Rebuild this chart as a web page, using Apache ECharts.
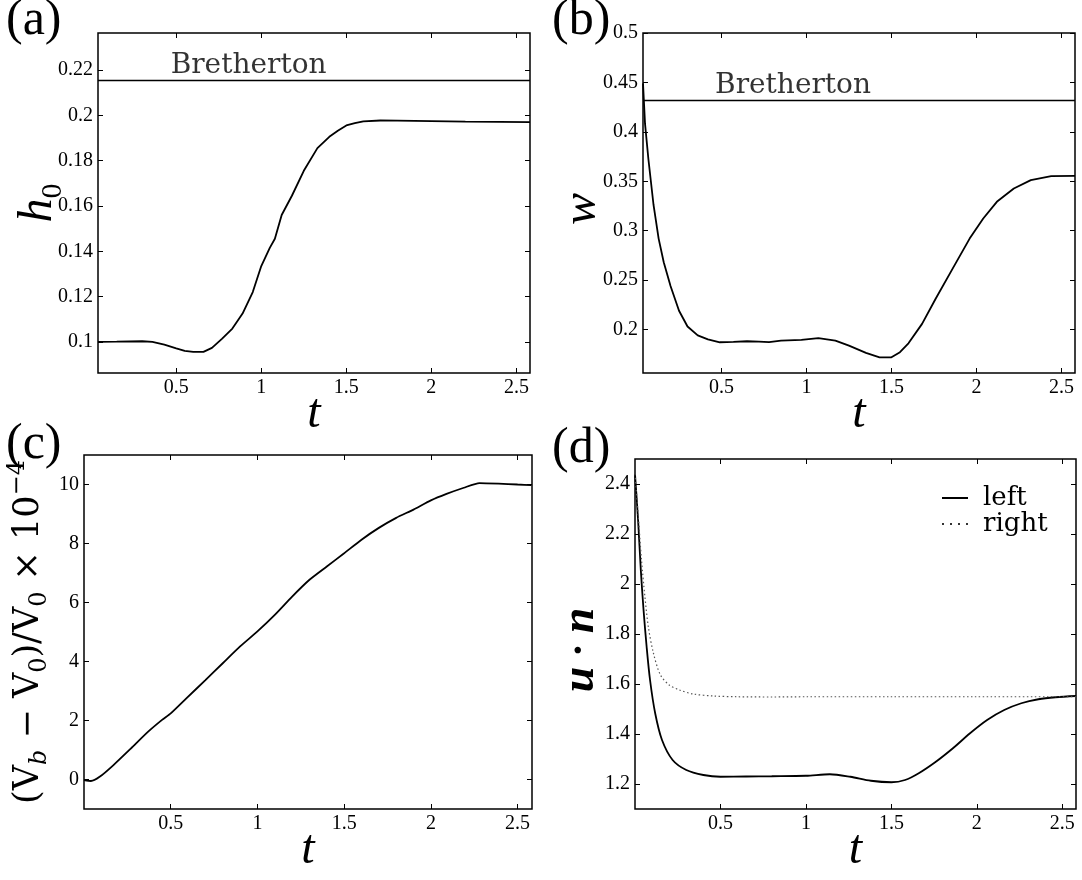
<!DOCTYPE html>
<html><head><meta charset="utf-8">
<script src="https://cdn.jsdelivr.net/npm/echarts@6/dist/echarts.min.js"></script>
<style>html,body{margin:0;padding:0;background:#fff}#c{width:1082px;height:880px}</style>
</head><body><div id="c"></div>
<script>
// ---- data ----
const aT = [0.04,0.15,0.3,0.36,0.43,0.5,0.55,0.6,0.66,0.71,0.77,0.83,0.89,0.95,1.0,1.05,1.08,1.12,1.18,1.25,1.33,1.4,1.45,1.5,1.55,1.6,1.7,1.8,2.0,2.2,2.4,2.58];
const aH = [0.1,0.1001,0.1003,0.1,0.0988,0.0972,0.0961,0.0956,0.0956,0.0974,0.1015,0.1059,0.1125,0.122,0.1335,0.1415,0.1455,0.156,0.1645,0.1755,0.1855,0.1905,0.1932,0.1955,0.1965,0.1973,0.1977,0.1976,0.1974,0.1972,0.1971,0.197];
const aBretherton = 0.2153;
const bT = [0.038,0.05,0.07,0.1,0.13,0.16,0.2,0.25,0.3,0.36,0.42,0.49,0.57,0.65,0.72,0.78,0.85,0.97,1.07,1.17,1.25,1.35,1.43,1.5,1.55,1.6,1.68,1.76,1.86,1.96,2.04,2.12,2.22,2.32,2.44,2.58];
const bW = [0.449,0.408,0.372,0.326,0.292,0.268,0.244,0.219,0.203,0.194,0.19,0.1871,0.1875,0.1881,0.1878,0.1872,0.1888,0.1895,0.1912,0.1888,0.1837,0.1763,0.1719,0.1719,0.177,0.186,0.2057,0.2311,0.2616,0.292,0.3123,0.3292,0.3427,0.3512,0.3552,0.3555];
const bBretherton = 0.4316;
const cT = [0,0.04,0.09,0.17,0.27,0.37,0.45,0.5,0.59,0.7,0.8,0.9,1.0,1.1,1.2,1.3,1.4,1.5,1.6,1.7,1.8,1.9,2.0,2.09,2.19,2.28,2.39,2.5,2.58];
const cV = [-0.02,-0.05,0.09,0.49,1.05,1.62,2.02,2.24,2.75,3.37,3.94,4.51,5.02,5.58,6.2,6.77,7.22,7.67,8.13,8.53,8.87,9.15,9.46,9.68,9.89,10.05,10.03,10.0,9.98];
const dT = [0,0.018,0.034,0.05,0.068,0.088,0.118,0.158,0.22,0.3,0.4,0.5,0.65,0.8,1.0,1.14,1.26,1.38,1.5,1.58,1.66,1.76,1.86,1.96,2.06,2.16,2.26,2.36,2.46,2.58];
const dLeft = [2.44,2.256,2.056,1.896,1.749,1.616,1.483,1.376,1.296,1.256,1.236,1.229,1.230,1.231,1.233,1.239,1.229,1.213,1.207,1.216,1.243,1.289,1.343,1.403,1.456,1.496,1.523,1.539,1.547,1.552];
const dTr = [0,0.018,0.038,0.058,0.078,0.108,0.149,0.2,0.26,0.34,0.46,0.6,0.8,1.0,1.5,2.0,2.58];
const dRight = [2.44,2.283,2.096,1.949,1.829,1.723,1.636,1.596,1.576,1.56,1.552,1.549,1.548,1.549,1.549,1.549,1.549];
const xTicks = [0.5,1,1.5,2,2.5];
const aYTicks = [0.1,0.12,0.14,0.16,0.18,0.2,0.22];
const bYTicks = [0.2,0.25,0.3,0.35,0.4,0.45,0.5];
const cYTicks = [0,2,4,6,8,10];
const dYTicks = [1.2,1.4,1.6,1.8,2,2.2,2.4];
const legendNames = ['left','right'];

// ---- layout ----
const grids = [
  {left:98, top:33, width:432, height:340},
  {left:643, top:33, width:432, height:340},
  {left:84, top:455, width:448, height:354},
  {left:635, top:459, width:441, height:350}
];
const xr = [[0.04,2.58],[0.038,2.58],[0,2.583],[0,2.58]];
const yr = [[0.0863,0.2363],[0.156,0.5],[-1,11],[1.1,2.5]];
const yt = [aYTicks,bYTicks,cYTicks,dYTicks];

const tickFont = {fontFamily:'Liberation Serif', fontSize:20, color:'#000'};
const fmt = v => String(+(+v).toFixed(4));
const tick = vals => ({show:true, inside:true, length:5, lineStyle:{color:'#000', width:1}, customValues: vals});
const noLine = {show:false, onZero:false};

const xAxis = [], yAxis = [];
grids.forEach((g,i) => {
  xAxis.push({type:'value', gridIndex:i, min:xr[i][0], max:xr[i][1], position:'bottom',
    axisLine:noLine, splitLine:{show:false}, axisTick:tick(xTicks),
    axisLabel:Object.assign({show:true, customValues:xTicks, formatter:fmt, margin:5}, tickFont),
    name:'t', nameLocation:'middle', nameGap:17, nameMoveOverlap:false,
    nameTextStyle:{fontFamily:'Liberation Serif', fontStyle:'italic', fontSize:48, color:'#000', lineHeight:48, verticalAlign:'top'}});
  xAxis.push({type:'value', gridIndex:i, min:xr[i][0], max:xr[i][1], position:'top',
    axisLine:noLine, splitLine:{show:false}, axisTick:tick(xTicks), axisLabel:{show:false}});
});
const yNames = [
  {name:'{i|h}{s|0}', gap:30, pad:[0,0,0,0], rich:{
    i:{fontFamily:'Liberation Serif', fontStyle:'italic', fontSize:48, lineHeight:60, color:'#000'},
    s:{fontFamily:'Liberation Serif', fontSize:30, lineHeight:30, verticalAlign:'bottom', color:'#000'}}},
  {name:'{i|w}', gap:37, pad:[0,12,0,0], rich:{
    i:{fontFamily:'Liberation Serif', fontStyle:'italic', fontSize:48, lineHeight:48, color:'#000'}}},
  {name:'{r|(V}{si|b}{r| − V}{s|0}{r|)/V}{s|0}{r| × 10}{sup|−4}', gap:32, pad:[0,0,0,0], rich:{
    r:{fontFamily:'DejaVu Serif', fontSize:35, lineHeight:46, color:'#000'},
    si:{fontFamily:'DejaVu Serif', fontStyle:'italic', fontSize:24, lineHeight:24, verticalAlign:'bottom', color:'#000'},
    s:{fontFamily:'DejaVu Serif', fontSize:24, lineHeight:24, verticalAlign:'bottom', color:'#000'},
    sup:{fontFamily:'DejaVu Serif', fontSize:24, lineHeight:24, verticalAlign:'top', color:'#000'}}},
  {name:'{b|u}{d| · }{b|n}', gap:31, pad:[0,32,0,0], rich:{
    b:{fontFamily:'Liberation Serif', fontStyle:'italic', fontWeight:'bold', fontSize:46, lineHeight:46, color:'#000'},
    d:{fontFamily:'Liberation Serif', fontWeight:'bold', fontSize:40, lineHeight:46, color:'#000'}}}
];
grids.forEach((g,i) => {
  yAxis.push({type:'value', gridIndex:i, min:yr[i][0], max:yr[i][1], position:'left',
    axisLine:noLine, splitLine:{show:false}, axisTick:tick(yt[i]),
    axisLabel:Object.assign({show:true, customValues:yt[i], formatter:fmt, margin:5}, tickFont),
    name:yNames[i].name, nameLocation:'middle', nameRotate:90, nameGap:yNames[i].gap, nameMoveOverlap:false,
    nameTextStyle:{rich:yNames[i].rich, padding:yNames[i].pad}});
  yAxis.push({type:'value', gridIndex:i, min:yr[i][0], max:yr[i][1], position:'right',
    axisLine:noLine, splitLine:{show:false}, axisTick:tick(yt[i]), axisLabel:{show:false}});
});

const zip = (xs, ys) => xs.map((x,k) => [x, ys[k]]);
const black = {color:'#000', width:1.8};
const labelText = (xi, yi, xv, yv) => ({type:'scatter', xAxisIndex:xi, yAxisIndex:yi, data:[[xv,yv]], symbolSize:1,
  itemStyle:{color:'rgba(0,0,0,0)'}, silent:true,
  label:{show:true, formatter:'Bretherton', position:[0,0], align:'left', verticalAlign:'bottom',
    fontFamily:'DejaVu Serif', fontSize:28, color:'#000'}});

const series = [
  {type:'line', xAxisIndex:0, yAxisIndex:0, data:zip(aT,aH), symbol:'none', lineStyle:black, color:'#000'},
  {type:'line', xAxisIndex:0, yAxisIndex:0, data:[[xr[0][0],aBretherton],[xr[0][1],aBretherton]], symbol:'none', lineStyle:{color:'#000', width:1.5}},
  labelText(0,0,0.47,aBretherton),
  {type:'line', xAxisIndex:2, yAxisIndex:2, data:zip(bT,bW), symbol:'none', lineStyle:black, color:'#000'},
  {type:'line', xAxisIndex:2, yAxisIndex:2, data:[[xr[1][0],bBretherton],[xr[1][1],bBretherton]], symbol:'none', lineStyle:{color:'#000', width:1.5}},
  labelText(2,2,0.465,bBretherton),
  {type:'line', xAxisIndex:4, yAxisIndex:4, data:zip(cT,cV), symbol:'none', smooth:0.2, lineStyle:black, color:'#000'},
  {name:legendNames[0], type:'line', xAxisIndex:6, yAxisIndex:6, data:zip(dT,dLeft), symbol:'none', smooth:0.3, lineStyle:black, color:'#000'},
  {name:legendNames[1], type:'line', xAxisIndex:6, yAxisIndex:6, data:zip(dTr,dRight), symbol:'none', smooth:0.3, lineStyle:{color:'#555', width:1.2, type:[1.5,2.5]}, color:'#555'}
];

const panelTitle = (t, l, tp) => ({text:t, left:l, top:tp, padding:0,
  textStyle:{fontFamily:'Liberation Serif', fontSize:50, fontWeight:'normal', color:'#000'}});

const option = {
  animation:false,
  backgroundColor:'#fff',
  title:[panelTitle('(a)',6,-4), panelTitle('(b)',552,-4), panelTitle('(c)',6,420), panelTitle('(d)',552,424)],
  grid: grids.map(g => Object.assign({show:true, borderColor:'#000', borderWidth:1.5, backgroundColor:'transparent', containLabel:false, outerBoundsMode:'none'}, g)),
  xAxis, yAxis, series,
  legend:{orient:'vertical', left:942, top:485, itemWidth:26, itemHeight:2, itemGap:0,
    selectedMode:false, padding:0,
    data:[
      {name:legendNames[0], icon:'path://M0,0h26v2h-26z', itemStyle:{color:'#000'}},
      {name:legendNames[1], icon:'path://M0,0h2v2h-2z M8,0h2v2h-2z M16,0h2v2h-2z M24,0h2v2h-2z', itemStyle:{color:'#333'}}
    ],
    textStyle:{fontFamily:'DejaVu Serif', fontSize:26, color:'#000', lineHeight:26, padding:[0,0,0,10]}}
};
const chart = echarts.init(document.getElementById('c'), null, {renderer:'canvas'});
chart.setOption(option);
</script>
</body></html>
